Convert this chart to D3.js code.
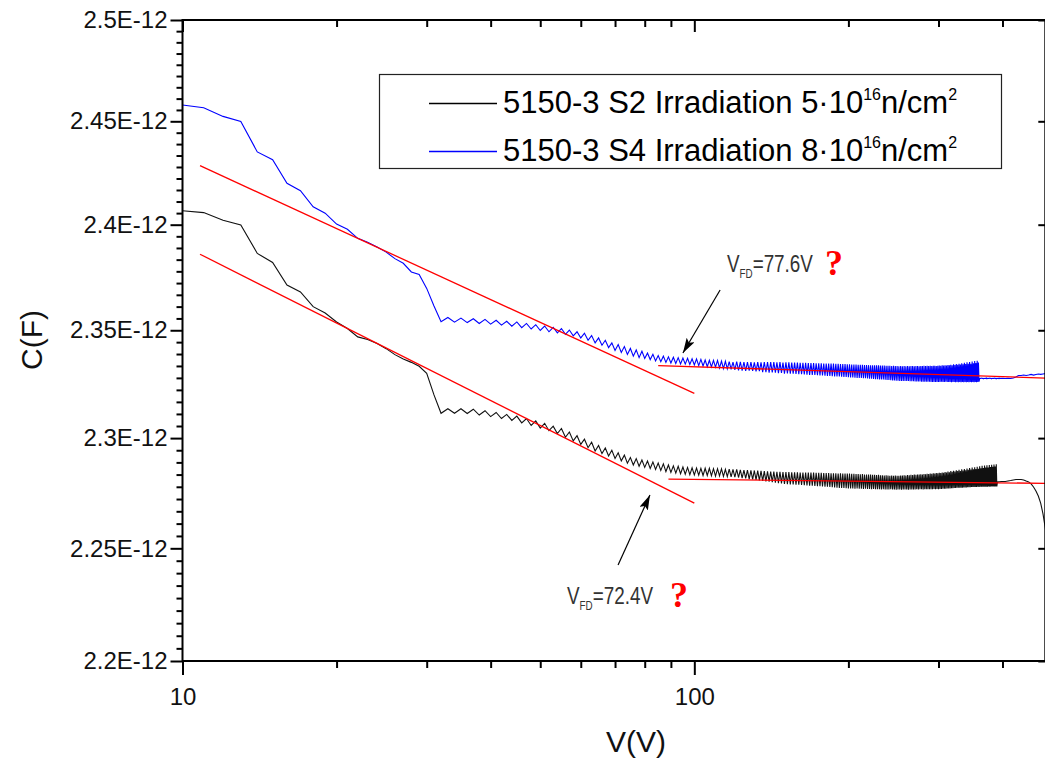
<!DOCTYPE html>
<html><head><meta charset="utf-8">
<script src="https://cdn.jsdelivr.net/npm/d3@7"></script>
<style>
body{margin:0;background:#fff;}
svg{display:block;}
text{font-family:Arial,"Liberation Sans",sans-serif;}
</style>
</head><body>
<svg id="chart" width="1045" height="759"></svg>
<script>
// ---------- DATA (capacitance in units of 1e-12 F) ----------
const voltage = [10,11,12,13,14,15,16,17,18,19,20,21,22,23,24,25,26,27,28,29,30,31,32,33,34,35,36,37,38,39,40,41,42,43,44,45,46,47,48,49,50,
51,52,53,54,55,56,57,58,59,60,61,62,63,64,65,66,67,68,69,70,71,72,73,74,75,76,77,78,79,80,81,82,83,84,85,86,87,88,89,90,91,92,93,94,95,96,97,98,99,100,
101,102,103,104,105,106,107,108,109,110,111,112,113,114,115,116,117,118,119,120,121,122,123,124,125,126,127,128,129,130,131,132,133,134,135,136,137,138,139,140,141,142,143,144,145,146,147,148,149,150,
151,152,153,154,155,156,157,158,159,160,161,162,163,164,165,166,167,168,169,170,171,172,173,174,175,176,177,178,179,180,181,182,183,184,185,186,187,188,189,190,191,192,193,194,195,196,197,198,199,200,
201,202,203,204,205,206,207,208,209,210,211,212,213,214,215,216,217,218,219,220,221,222,223,224,225,226,227,228,229,230,231,232,233,234,235,236,237,238,239,240,241,242,243,244,245,246,247,248,249,250,
251,252,253,254,255,256,257,258,259,260,261,262,263,264,265,266,267,268,269,270,271,272,273,274,275,276,277,278,279,280,281,282,283,284,285,286,287,288,289,290,291,292,293,294,295,296,297,298,299,300,
301,302,303,304,305,306,307,308,309,310,311,312,313,314,315,316,317,318,319,320,321,322,323,324,325,326,327,328,329,330,331,332,333,334,335,336,337,338,339,340,341,342,343,344,345,346,347,348,349,350,
351,352,353,354,355,356,357,358,359,360,361,362,363,364,365,366,367,368,369,370,371,372,373,374,375,376,377,378,379,380,381,382,383,384,385,386,387,388,389,390,391,392,393,394,395,396,397,398,399,400,
405,410,415,420,425,430,435,440,445,450,455,460,465,470,475,480,485,490];

const capS2 = [2.4067,2.4058,2.4021,2.3999,2.3863,2.3820,2.3713,2.3680,2.3611,2.3581,2.3539,2.3508,2.3469,2.3457,2.3438,2.3414,2.3386,2.3366,2.3350,2.3332,2.3299,2.3199,
2.3114,2.3135,2.3114,2.3135,2.3113,2.3133,2.3106,2.3126,2.3099,2.3118,2.3090,2.3109,2.3081,2.3101,2.3070,2.3090,2.3058,2.3079,2.3046,
2.3068,2.3034,2.3055,2.3021,2.3044,2.3004,2.3028,2.2987,2.3011,2.2971,2.2995,2.2956,2.2981,2.2941,2.2966,2.2929,2.2955,2.2918,2.2944,2.2907,2.2933,2.2896,2.2922,2.2885,2.2911,2.2877,2.2906,2.2871,2.2900,2.2866,2.2895,2.2861,2.2891,2.2857,2.2886,2.2852,2.2882,2.2847,2.2877,2.2843,2.2873,2.2840,2.2871,2.2837,2.2868,2.2835,2.2866,2.2833,2.2864,2.2832,
2.2863,2.2831,2.2862,2.2829,2.2862,2.2829,2.2862,2.2828,2.2860,2.2826,2.2860,2.2827,2.2859,2.2825,2.2857,2.2824,2.2858,2.2823,2.2857,2.2822,2.2857,2.2820,2.2855,2.2817,2.2854,2.2816,2.2854,2.2813,2.2852,2.2811,2.2852,2.2809,2.2851,2.2807,2.2850,2.2805,2.2849,2.2802,2.2848,2.2801,2.2847,2.2799,2.2847,2.2796,2.2846,2.2794,2.2846,2.2793,2.2845,2.2791,
2.2845,2.2790,2.2845,2.2789,2.2844,2.2788,2.2844,2.2787,2.2844,2.2787,2.2843,2.2786,2.2843,2.2785,2.2843,2.2784,2.2842,2.2783,2.2842,2.2783,2.2842,2.2782,2.2841,2.2781,2.2841,2.2780,2.2841,2.2779,2.2840,2.2778,2.2840,2.2778,2.2840,2.2777,2.2839,2.2776,2.2839,2.2775,2.2839,2.2774,2.2838,2.2773,2.2839,2.2773,2.2838,2.2772,2.2838,2.2771,2.2838,2.2770,
2.2838,2.2770,2.2837,2.2770,2.2837,2.2769,2.2836,2.2770,2.2836,2.2769,2.2835,2.2769,2.2836,2.2768,2.2834,2.2769,2.2834,2.2768,2.2833,2.2768,2.2834,2.2767,2.2832,2.2768,2.2832,2.2767,2.2831,2.2767,2.2832,2.2767,2.2830,2.2766,2.2830,2.2767,2.2829,2.2766,2.2830,2.2766,2.2829,2.2766,2.2828,2.2767,2.2829,2.2766,2.2828,2.2766,2.2829,2.2765,2.2828,2.2766,
2.2828,2.2766,2.2829,2.2765,2.2829,2.2766,2.2830,2.2766,2.2829,2.2766,2.2831,2.2765,2.2830,2.2766,2.2832,2.2766,2.2831,2.2766,2.2833,2.2766,2.2832,2.2767,2.2834,2.2766,2.2833,2.2767,2.2835,2.2767,2.2834,2.2766,2.2836,2.2767,2.2835,2.2767,2.2837,2.2767,2.2836,2.2767,2.2838,2.2767,2.2837,2.2767,2.2839,2.2768,2.2838,2.2767,2.2840,2.2768,2.2839,2.2767,
2.2841,2.2768,2.2840,2.2768,2.2843,2.2769,2.2841,2.2769,2.2845,2.2769,2.2843,2.2770,2.2847,2.2770,2.2844,2.2770,2.2849,2.2771,2.2846,2.2771,2.2851,2.2772,2.2847,2.2772,2.2853,2.2773,2.2849,2.2773,2.2855,2.2773,2.2850,2.2774,2.2857,2.2774,2.2852,2.2775,2.2859,2.2775,2.2853,2.2775,2.2861,2.2776,2.2855,2.2776,2.2863,2.2776,2.2856,2.2777,2.2865,2.2777,
2.2858,2.2777,2.2867,2.2777,2.2859,2.2777,2.2869,2.2778,2.2860,2.2777,2.2871,2.2778,2.2862,2.2778,2.2873,2.2778,2.2863,2.2778,2.2875,2.2778,2.2865,2.2778,2.2876,2.2778,2.2866,2.2779,2.2877,2.2778,2.2868,2.2779,2.2878,2.2779,2.2869,2.2779,2.2879,2.2779,2.2870,2.2779,2.2880,2.2779,2.2799,2.2800,2.2800,2.2801,2.2801,2.2801,2.2802,2.2802,2.2802,2.2802,
2.2802,2.2804,2.2806,2.2809,2.2811,2.2811,2.2811,2.2809,2.2804,2.2800,2.2791,2.2777,2.2759,2.2736,2.2704,2.2655,2.2591,2.2515];

const capS4 = [2.4580,2.4566,2.4524,2.4499,2.4351,2.4313,2.4199,2.4163,2.4086,2.4055,2.4003,2.3978,2.3935,2.3916,2.3893,2.3869,2.3838,2.3816,2.3775,2.3763,2.3697,2.3614,
2.3540,2.3560,2.3538,2.3557,2.3536,2.3554,2.3532,2.3551,2.3529,2.3547,2.3524,2.3542,2.3519,2.3539,2.3512,2.3532,2.3506,2.3526,2.3499,
2.3520,2.3493,2.3514,2.3488,2.3508,2.3481,2.3501,2.3474,2.3493,2.3464,2.3486,2.3453,2.3475,2.3441,2.3464,2.3430,2.3453,2.3419,2.3441,2.3405,2.3433,2.3396,2.3424,2.3387,2.3415,2.3379,2.3408,2.3372,2.3402,2.3368,2.3393,2.3363,2.3388,2.3357,2.3382,2.3353,2.3379,2.3350,2.3376,2.3347,2.3374,2.3345,2.3372,2.3343,2.3370,2.3342,2.3369,2.3340,2.3367,2.3338,
2.3366,2.3335,2.3364,2.3333,2.3361,2.3330,2.3360,2.3329,2.3359,2.3328,2.3359,2.3324,2.3356,2.3321,2.3355,2.3320,2.3354,2.3318,2.3351,2.3315,2.3353,2.3313,2.3352,2.3312,2.3351,2.3310,2.3351,2.3311,2.3351,2.3310,2.3350,2.3308,2.3351,2.3309,2.3350,2.3304,2.3351,2.3304,2.3351,2.3302,2.3351,2.3303,2.3351,2.3302,2.3350,2.3300,2.3351,2.3301,2.3349,2.3298,
2.3350,2.3298,2.3350,2.3297,2.3349,2.3297,2.3349,2.3296,2.3349,2.3295,2.3348,2.3295,2.3348,2.3294,2.3348,2.3293,2.3347,2.3292,2.3347,2.3292,2.3347,2.3291,2.3346,2.3290,2.3346,2.3289,2.3346,2.3289,2.3345,2.3288,2.3345,2.3287,2.3344,2.3287,2.3344,2.3286,2.3344,2.3285,2.3343,2.3284,2.3343,2.3284,2.3342,2.3283,2.3342,2.3282,2.3342,2.3282,2.3341,2.3281,
2.3341,2.3280,2.3340,2.3280,2.3340,2.3279,2.3340,2.3278,2.3339,2.3278,2.3339,2.3277,2.3339,2.3276,2.3338,2.3276,2.3338,2.3275,2.3337,2.3274,2.3337,2.3274,2.3337,2.3273,2.3336,2.3272,2.3336,2.3272,2.3336,2.3271,2.3335,2.3270,2.3335,2.3270,2.3335,2.3269,2.3334,2.3268,2.3334,2.3268,2.3334,2.3267,2.3333,2.3266,2.3334,2.3266,2.3333,2.3265,2.3333,2.3265,
2.3332,2.3264,2.3333,2.3264,2.3332,2.3264,2.3333,2.3263,2.3332,2.3263,2.3333,2.3263,2.3332,2.3262,2.3333,2.3262,2.3333,2.3262,2.3332,2.3261,2.3333,2.3261,2.3333,2.3261,2.3332,2.3261,2.3333,2.3260,2.3333,2.3260,2.3334,2.3260,2.3333,2.3260,2.3334,2.3260,2.3333,2.3260,2.3334,2.3259,2.3333,2.3259,2.3334,2.3259,2.3334,2.3259,2.3333,2.3259,2.3334,2.3259,
2.3335,2.3259,2.3334,2.3260,2.3336,2.3259,2.3335,2.3259,2.3337,2.3260,2.3335,2.3259,2.3338,2.3259,2.3336,2.3259,2.3339,2.3258,2.3337,2.3259,2.3341,2.3259,2.3338,2.3258,2.3342,2.3259,2.3339,2.3258,2.3344,2.3259,2.3340,2.3258,2.3346,2.3259,2.3341,2.3258,2.3348,2.3259,2.3342,2.3258,2.3350,2.3259,2.3343,2.3258,2.3352,2.3259,2.3344,2.3258,2.3354,2.3259,
2.3346,2.3258,2.3356,2.3259,2.3347,2.3258,2.3358,2.3259,2.3349,2.3260,2.3274,2.3276,2.3275,2.3277,2.3275,2.3276,2.3274,2.3276,2.3275,2.3276,2.3275,2.3277,2.3274,2.3276,2.3275,2.3276,2.3275,2.3277,2.3275,2.3276,2.3274,2.3276,2.3275,2.3276,2.3275,2.3277,2.3275,2.3276,2.3274,2.3276,2.3275,2.3276,2.3275,2.3277,2.3275,2.3276,2.3275,2.3276,2.3275,2.3276,
2.3275,2.3276,2.3275,2.3277,2.3282,2.3289,2.3289,2.3291,2.3289,2.3291,2.3294,2.3291,2.3294,2.3296,2.3294,2.3296,2.3298,2.3298];

// red linear fits (endpoints)
const fitSlopeV = [10.82, 100];
const fitS2SlopeC = [2.3859, 2.2704];
const fitS4SlopeC = [2.4284, 2.3206];
const fitS2FlatV = [89, 500];
const fitS2FlatC = [2.2813, 2.2793];
const fitS4FlatV = [85, 500];
const fitS4FlatC = [2.3335, 2.3276];

// axis ticks
const yTicks = [2.2, 2.25, 2.3, 2.35, 2.4, 2.45, 2.5];
const yTickLabels = ["2.2E-12","2.25E-12","2.3E-12","2.35E-12","2.4E-12","2.45E-12","2.5E-12"];
const xTicks = [10, 100];
const xTickLabels = ["10", "100"];

// legend (row order top -> bottom)
const legendNames = ["5150-3 S2 Irradiation 5\u00B710", "5150-3 S4 Irradiation 8\u00B710"];
const legendColors = ["#000000", "#0000ff"];
const colorS2 = "#111111";
const colorS4 = "#0000ff";

// annotations (arrow from -> to, label anchor, question mark anchor)
const annV = [[112.3, 95.0], [70.96, 81.9]];
const annC = [[2.36895, 2.33938], [2.2425, 2.27406]];
const annLabels = ["=77.6V", "=72.4V"];
const annLabelV = [115.8, 56.4];
const annLabelC = [2.3775, 2.2252];
const annQV = [180.0, 89.6];
const annQC = [2.3760, 2.2238];

// ---------- CHART ----------
const plot = {left: 182.5, right: 1045.3, top: 20, bottom: 661};
const x = d3.scaleLog().domain([10, 485]).range([plot.left, plot.right]);
const y = d3.scaleLog().domain([2.2, 2.5]).range([plot.bottom, plot.top]);
const svg = d3.select("#chart");

const defs = svg.append("defs");
defs.append("clipPath").attr("id", "clip").append("rect")
  .attr("x", plot.left).attr("y", plot.top)
  .attr("width", plot.right - plot.left).attr("height", plot.bottom - plot.top);
defs.append("marker").attr("id", "arrow").attr("markerUnits", "userSpaceOnUse")
  .attr("markerWidth", 16).attr("markerHeight", 10).attr("refX", 15).attr("refY", 4.5)
  .attr("orient", "auto")
  .append("path").attr("d", "M0,0 L15,4.5 L0,9 L3,4.5 Z").attr("fill", "#000");

const line = d3.line().x(d => x(d[0])).y(d => y(d[1]));
const gData = svg.append("g").attr("clip-path", "url(#clip)");

gData.append("path").datum(voltage.map((v, i) => [v, capS2[i]]))
  .attr("d", line).attr("fill", "none").attr("stroke", colorS2).attr("stroke-width", 1.1);
gData.append("path").datum(voltage.map((v, i) => [v, capS4[i]]))
  .attr("d", line).attr("fill", "none").attr("stroke", colorS4).attr("stroke-width", 1.1);

const fits = [
  fitSlopeV.map((v, i) => [v, fitS4SlopeC[i]]),
  fitSlopeV.map((v, i) => [v, fitS2SlopeC[i]]),
  fitS4FlatV.map((v, i) => [v, fitS4FlatC[i]]),
  fitS2FlatV.map((v, i) => [v, fitS2FlatC[i]])
];
gData.selectAll(".fit").data(fits).enter().append("path").attr("class", "fit")
  .attr("d", line).attr("fill", "none").attr("stroke", "#ff0000").attr("stroke-width", 1.3);

// ---------- AXES ----------
const yMinor = [];
for (let i = 0; i < yTicks.length - 1; i++)
  for (let k = 1; k <= 8; k++) yMinor.push(yTicks[i] + k * (yTicks[i + 1] - yTicks[i]) / 9);
const xMinor = x.ticks().filter(t => xTicks.indexOf(t) < 0);

function styleAxis(g) {
  g.select(".domain").remove();
  g.selectAll(".tick line").attr("stroke", "#000").attr("stroke-width", 2);
  g.selectAll(".tick text").attr("fill", "#111").style("font-size", "24px")
    .style("font-family", "Arial, 'Liberation Sans', sans-serif");
}
svg.append("g").attr("transform", `translate(${plot.left},0)`)
  .call(d3.axisLeft(y).tickValues(yTicks).tickFormat((d, i) => yTickLabels[i]).tickSizeInner(12).tickSizeOuter(0).tickPadding(3))
  .call(styleAxis);
svg.append("g").attr("transform", `translate(${plot.left},0)`)
  .call(d3.axisLeft(y).tickValues(yMinor).tickFormat("").tickSizeInner(6).tickSizeOuter(0))
  .call(styleAxis);
svg.append("g").attr("transform", `translate(0,${plot.bottom})`)
  .call(d3.axisBottom(x).tickValues(xTicks).tickFormat((d, i) => xTickLabels[i]).tickSizeInner(14).tickSizeOuter(0).tickPadding(13))
  .call(styleAxis);
svg.append("g").attr("transform", `translate(0,${plot.bottom})`)
  .call(d3.axisBottom(x).tickValues(xMinor).tickFormat("").tickSizeInner(7).tickSizeOuter(0))
  .call(styleAxis);
svg.append("g").attr("transform", `translate(0,${plot.top})`)
  .call(d3.axisTop(x).tickValues(xTicks).tickFormat("").tickSizeInner(-12).tickSizeOuter(0))
  .call(styleAxis);
svg.append("g").attr("transform", `translate(0,${plot.top})`)
  .call(d3.axisTop(x).tickValues(xMinor).tickFormat("").tickSizeInner(-7).tickSizeOuter(0))
  .call(styleAxis);
svg.append("g").attr("transform", `translate(${plot.right},0)`)
  .call(d3.axisRight(y).tickValues(yTicks).tickFormat("").tickSizeInner(-7).tickSizeOuter(0))
  .call(styleAxis);

svg.append("rect").attr("x", plot.left).attr("y", plot.top)
  .attr("width", plot.right - plot.left).attr("height", plot.bottom - plot.top)
  .attr("fill", "none").attr("stroke", "#000").attr("stroke-width", 2);

svg.append("text").attr("transform", "translate(42,340) rotate(-90)")
  .attr("text-anchor", "middle").style("font-size", "30px").attr("fill", "#111").text("C(F)");
svg.append("text").attr("x", 636).attr("y", 752)
  .attr("text-anchor", "middle").style("font-size", "30px").attr("fill", "#111").text("V(V)");

// ---------- LEGEND ----------
const lg = svg.append("g");
lg.append("rect").attr("x", 379.5).attr("y", 74.5).attr("width", 622).attr("height", 94)
  .attr("fill", "#fff").attr("stroke", "#222").attr("stroke-width", 1.2);
const legendY = [103.5, 151.5];
for (let i = 0; i < legendNames.length; i++) {
  lg.append("line").attr("x1", 429).attr("x2", 497)
    .attr("y1", legendY[i]).attr("y2", legendY[i])
    .style("stroke", legendColors[i]).style("stroke-width", "1.4px");
  const t = lg.append("text").attr("x", 503).attr("y", legendY[i] + 9.5)
    .style("font-size", "31px").attr("fill", "#000");
  t.append("tspan").text(legendNames[i]);
  t.append("tspan").attr("dy", -13).style("font-size", "16px").text("16");
  t.append("tspan").attr("dy", 13).text("n/cm");
  t.append("tspan").attr("dy", -13).style("font-size", "16px").text("2");
}

// ---------- ANNOTATIONS ----------
annLabels.forEach((lab, i) => {
  svg.append("line")
    .attr("x1", x(annV[i][0])).attr("y1", y(annC[i][0]))
    .attr("x2", x(annV[i][1])).attr("y2", y(annC[i][1]))
    .attr("stroke", "#000").attr("stroke-width", 1.2).attr("marker-end", "url(#arrow)");
  const g = svg.append("g").attr("transform", `translate(${x(annLabelV[i])},${y(annLabelC[i])}) scale(0.82,1)`);
  const t = g.append("text").attr("x", 0).attr("y", 0).attr("fill", "#333").style("font-size", "23px");
  t.append("tspan").text("V");
  t.append("tspan").attr("dy", 6).style("font-size", "12px").text("FD");
  t.append("tspan").attr("dy", -6).text(lab);
  svg.append("text").attr("x", x(annQV[i])).attr("y", y(annQC[i]))
    .attr("fill", "#ff0000").style("font-size", "36px").style("font-weight", "bold")
    .style("font-family", "'Liberation Serif', 'Times New Roman', serif").text("?");
});
</script>
</body></html>
